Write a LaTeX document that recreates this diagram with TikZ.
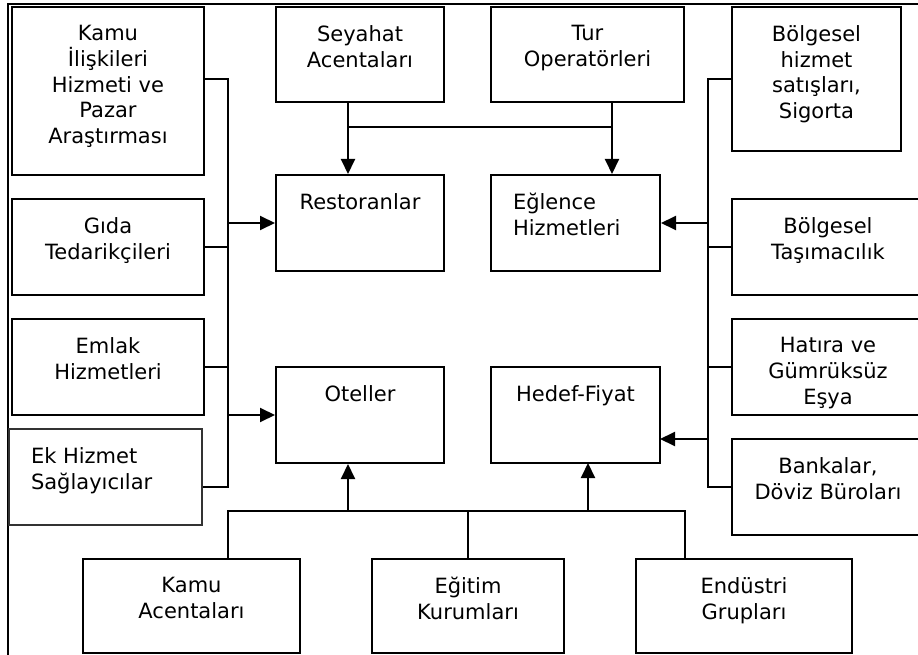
\documentclass[tikz,border=0pt]{standalone}
\usepackage{fontspec}
\setmainfont{DejaVu Sans}
\usetikzlibrary{arrows.meta}
\begin{document}
\begin{tikzpicture}[x=1pt,y=-1pt,line width=2pt,
  box/.style={draw,rectangle,inner sep=0pt,line width=2pt},
  lab/.style={font=\fontsize{21pt}{25.6pt}\selectfont,align=center,inner sep=0pt,anchor=north,yshift=-18.5pt},
  labl/.style={font=\fontsize{21pt}{25.6pt}\selectfont,align=left,inner sep=0pt,anchor=north west,yshift=-18.5pt,xshift=22pt},
  arr/.style={-{Triangle[length=15pt,width=14pt]}}]
\useasboundingbox (0,0) rectangle (918,655);
\clip (0,0) rectangle (918,655);
% frame
\draw (918,4.5) -- (7.5,4.5) -- (7.5,660);
% left column
\node[box,minimum width=192,minimum height=168] (kamuil) at (108,91) {};
\node[lab] (tkamuil) at (kamuil.north) {Kamu\\İlişkileri\\Hizmeti ve\\Pazar\\Araştırması};
\node[box,minimum width=192,minimum height=96] (gida) at (108,247) {};
\node[lab] (tgida) at (gida.north) {Gıda\\Tedarikçileri};
\node[box,minimum width=192,minimum height=96] (emlak) at (108,367) {};
\node[lab] (temlak) at (emlak.north) {Emlak\\Hizmetleri};
\node[box,draw=black!80,minimum width=193,minimum height=96] (ek) at (105.5,477) {};
\node[labl] (tek) at (ek.north west) {Ek Hizmet\\Sağlayıcılar};
% centre
\node[box,minimum width=168,minimum height=95] (seyahat) at (360,54.5) {};
\node[lab] (tseyahat) at (seyahat.north) {Seyahat\\Acentaları};
\node[box,minimum width=168,minimum height=96] (rest) at (360,223) {};
\node[lab] (trest) at (rest.north) {Restoranlar};
\node[box,minimum width=168,minimum height=96] (otel) at (360,415) {};
\node[lab] (totel) at (otel.north) {Oteller};
\node[box,minimum width=193,minimum height=95] (tur) at (587.5,54.5) {};
\node[lab] (ttur) at (tur.north) {Tur\\Operatörleri};
\node[box,minimum width=169,minimum height=96] (eglence) at (575.5,223) {};
\node[labl] (teglence) at (eglence.north west) {Eğlence\\Hizmetleri};
\node[box,minimum width=169,minimum height=96] (hedef) at (575.5,415) {};
\node[lab] (thedef) at (hedef.north) {Hedef-Fiyat};
% right column
\node[box,minimum width=169,minimum height=144] (bolhiz) at (816.5,79) {};
\node[lab] (tbolhiz) at (bolhiz.north) {Bölgesel\\hizmet\\satışları,\\Sigorta};
\node[box,minimum width=192,minimum height=96] (tasima) at (828,247) {};
\node[lab] (ttasima) at (tasima.north) {Bölgesel\\Taşımacılık};
\node[box,minimum width=192,minimum height=96] (hatira) at (828,367) {};
\node[lab] (thatira) at (hatira.north) {Hatıra ve\\Gümrüksüz\\Eşya};
\node[box,minimum width=192,minimum height=96] (banka) at (828,487) {};
\node[lab] (tbanka) at (banka.north) {Bankalar,\\Döviz Büroları};
% bottom
\node[box,minimum width=217,minimum height=94] (kamuac) at (191.5,606) {};
\node[lab] (tkamuac) at (kamuac.north) {Kamu\\Acentaları};
\node[box,minimum width=192,minimum height=94] (egitim) at (468,606) {};
\node[lab] (tegitim) at (egitim.north) {Eğitim\\Kurumları};
\node[box,minimum width=216,minimum height=94] (endustri) at (744,606) {};
\node[lab] (tendustri) at (endustri.north) {Endüstri\\Grupları};
% bus coordinates
\coordinate (lbt) at (228,79);
\coordinate (lbb) at (228,487);
\coordinate (rbt) at (708,79);
\coordinate (rbb) at (708,487);
\coordinate (tb) at (348,127);
\coordinate (tbr) at (612,127);
\coordinate (bb) at (228,511);
\coordinate (bbr) at (685,511);
\coordinate (hin) at (660,439);
\coordinate (hup) at (588,463);
% left bus
\draw (lbt -| kamuil.east) -- (lbt) -- (lbb) -- (lbb -| ek.east);
\draw (gida.east) -- (gida.east -| lbt);
\draw (emlak.east) -- (emlak.east -| lbt);
\draw[arr] (rest.west -| lbt) -- (rest.west);
\draw[arr] (otel.west -| lbt) -- (otel.west);
% right bus
\draw (rbt -| bolhiz.west) -- (rbt) -- (rbb) -- (rbb -| banka.west);
\draw (tasima.west) -- (tasima.west -| rbt);
\draw (hatira.west) -- (hatira.west -| rbt);
\draw[arr] (eglence.east -| rbt) -- (eglence.east);
\draw[arr] (hin -| rbt) -- (hin);
% top bus
\draw (tb |- seyahat.south) -- (tb) -- (tbr);
\draw[arr] (tb) -- (tb |- rest.north);
\draw[arr] (tbr |- tur.south) -- (tbr |- eglence.north);
% bottom bus
\draw (bb |- kamuac.north) -- (bb) -- (bbr) -- (bbr |- endustri.north);
\draw (egitim.north) -- (egitim.north |- bb);
\draw[arr] (tb |- bb) -- (tb |- otel.south);
\draw[arr] (hup |- bb) -- (hup);
\end{tikzpicture}
\end{document}
